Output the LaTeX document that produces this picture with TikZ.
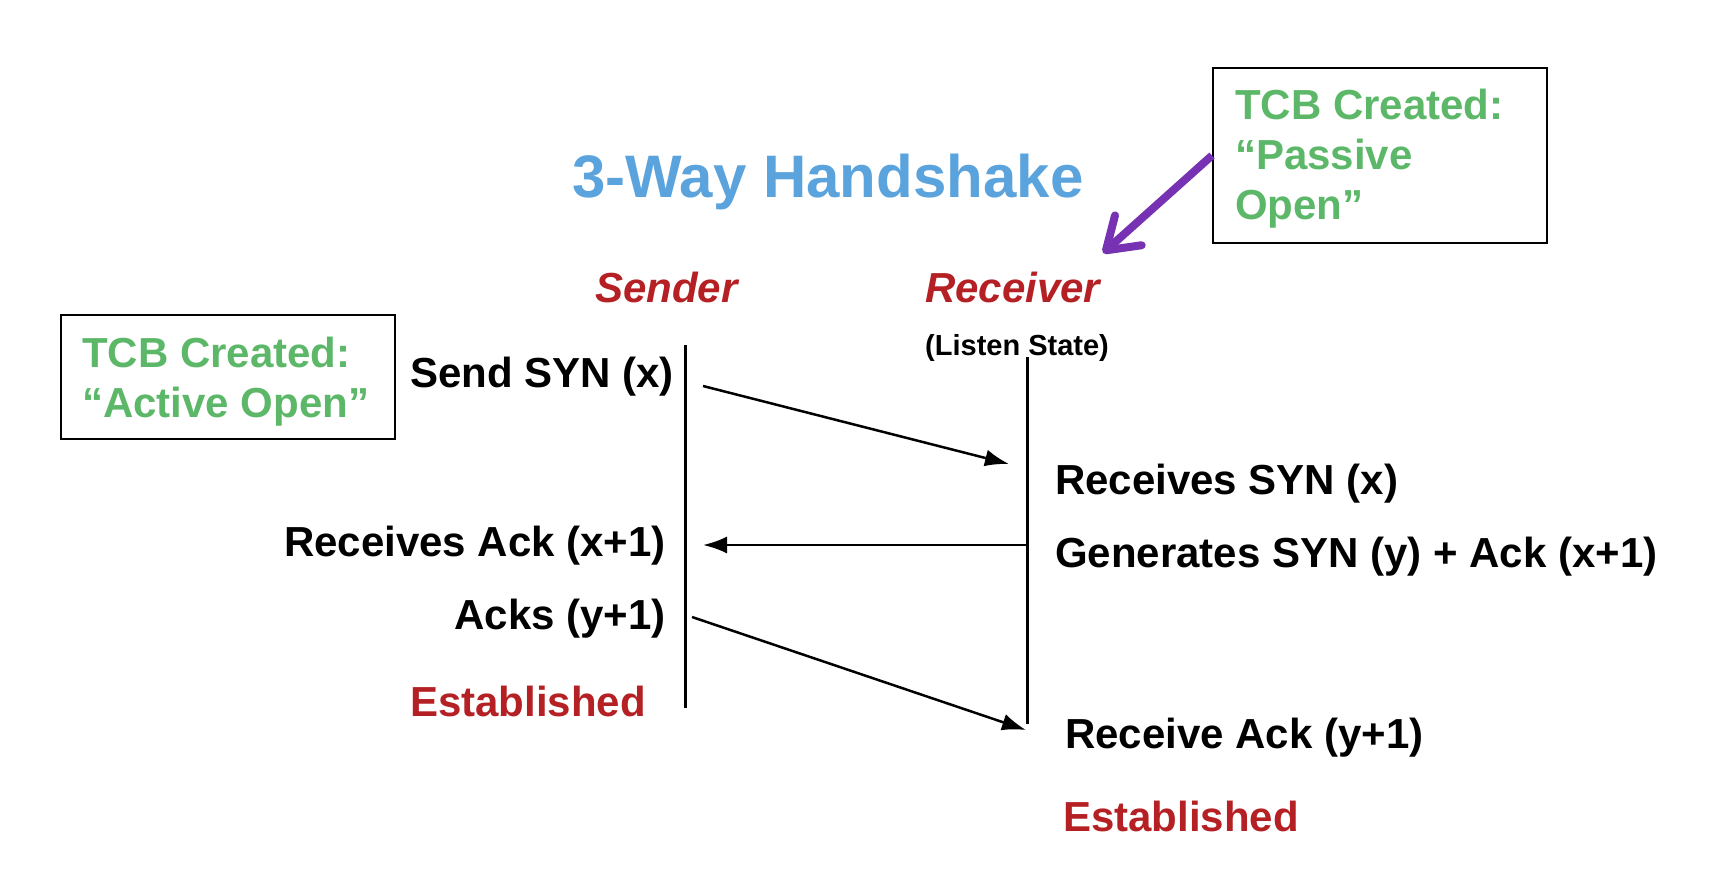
\documentclass[tikz,border=0pt]{standalone}
\usepackage{fontspec}
\setmainfont{Liberation Sans}
\usetikzlibrary{arrows.meta}
\definecolor{titleblue}{RGB}{91,163,220}
\definecolor{tcbgreen}{RGB}{92,184,104}
\definecolor{statered}{RGB}{180,32,36}
\definecolor{hintpurple}{RGB}{118,50,178}
\begin{document}
\begin{tikzpicture}[x=1pt,y=-1pt,>={Latex[length=24pt,width=17pt]},inner sep=0pt,
  txt/.style={font=\fontsize{42}{50}\selectfont\bfseries},
  tcb/.style={txt,text=tcbgreen,align=left,anchor=base west},
  state/.style={txt,text=statered,anchor=base west},
  tcbbox/.style={draw,line width=2pt,minimum width=334pt,anchor=north west}]
  \useasboundingbox (0,0) rectangle (1734,896);
  \node[font=\fontsize{60}{72}\selectfont\bfseries,text=titleblue,anchor=base west] (title) at (572,197) {3-Way Handshake};
  % TCB boxes
  \node[tcbbox,minimum height=175pt] (passive) at (1212,67) {};
  \node[tcb] (passivetxt) at (1235,219) {TCB Created:\\“Passive\\Open”};
  \node[tcbbox,minimum height=124pt] (active) at (60,314) {};
  \node[tcb] (activetxt) at (82,417) {TCB Created:\\“Active Open”};
  \coordinate (pointer) at (1103,253);
  \draw[hintpurple,line width=8pt,-{Straight Barb[length=30pt,width=40pt,round]}] (passive.west) -- (pointer);

  \node[state,font=\fontsize{42}{50}\selectfont\bfseries\itshape] (sender) at (595,302) {Sender};
  \node[state,font=\fontsize{42}{50}\selectfont\bfseries\itshape] (receiver) at (925,302) {Receiver};
  \node[font=\fontsize{29}{34}\selectfont\bfseries,anchor=base west] (listen) at (925,355) {(Listen State)};
  \coordinate (stop) at (685,345); \coordinate (sbot) at (685,708);
  \coordinate (rtop) at (1027,357); \coordinate (rbot) at (1027,724);
  \draw[line width=3pt] (stop) -- (sbot);
  \draw[line width=3pt] (rtop) -- (rbot);

  \node[txt,anchor=base west] (sendsyn) at (410,387) {Send SYN (x)};
  \node[txt,anchor=base west] (recvsyn) at (1055,494) {Receives SYN (x)};
  \node[txt,anchor=base west] (gensyn) at (1055,567) {Generates SYN (y) + Ack (x+1)};
  \node[txt,anchor=base east] (recvack) at (666,556) {Receives Ack (x+1)};
  \node[txt,anchor=base east] (acks) at (666,629) {Acks (y+1)};
  \node[state] (estsend) at (410,716) {Established};
  \node[txt,anchor=base west] (recvlast) at (1065,748) {Receive Ack (y+1)};
  \node[state] (estrecv) at (1063,831) {Established};

  % segments
  \coordinate (synA) at (703,386); \coordinate (synB) at (1009,464);
  \coordinate (synackA) at (1027,545); \coordinate (synackB) at (703,545);
  \coordinate (ackA) at (692,617); \coordinate (ackB) at (1026,730);
  \draw[line width=2.5pt,->] (synA) -- (synB);
  \draw[line width=2.5pt,->] (synackA) -- (synackB);
  \draw[line width=2.5pt,->] (ackA) -- (ackB);
\end{tikzpicture}
\end{document}
